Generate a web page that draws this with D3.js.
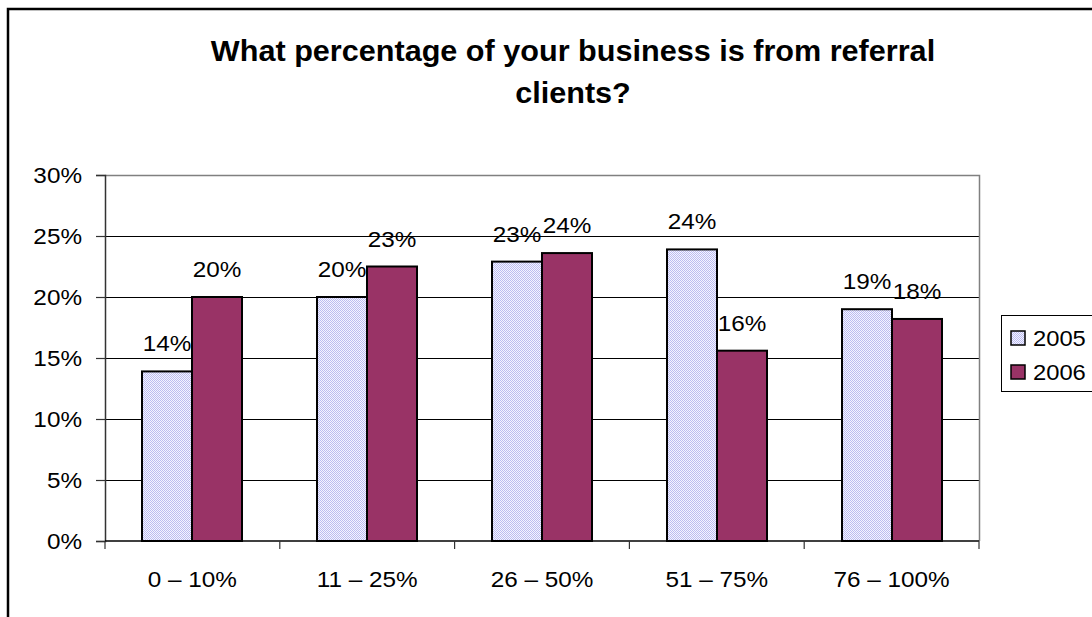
<!DOCTYPE html>
<html>
<head>
<meta charset="utf-8">
<script src="https://cdn.jsdelivr.net/npm/d3@7"></script>
<style>
  body { margin: 0; background: #fff; }
  svg { display: block; }
  text { font-family: "Liberation Sans", Arial, sans-serif; fill: #000; }
</style>
</head>
<body>
<svg id="chart" width="1092" height="617"></svg>
<script>
// Survey results: share of business coming from referral clients
const titleLines = ["What percentage of your business is from referral", "clients?"];
const categories = ["0 – 10%", "11 – 25%", "26 – 50%", "51 – 75%", "76 – 100%"];
const seriesNames = ["2005", "2006"];
const values2005 = [13.9, 20.0, 22.9, 23.9, 19.0];
const values2006 = [20.0, 22.5, 23.6, 15.6, 18.2];
const yTicks = [0, 5, 10, 15, 20, 25, 30];

const seriesValues = { "2005": values2005, "2006": values2006 };
const fmtPct = v => Math.round(v) + "%";
const SX = 1.08; // slight horizontal widening of the text glyphs

const svg = d3.select("#chart");

// pattern fill for the 2005 bars (fine lavender dither)
const defs = svg.append("defs");
const pat = defs.append("pattern")
  .attr("id", "dither")
  .attr("width", 2).attr("height", 2)
  .attr("patternUnits", "userSpaceOnUse");
pat.append("rect").attr("width", 2).attr("height", 2).attr("fill", "#f4f4ff");
pat.append("rect").attr("width", 1).attr("height", 1).attr("fill", "#bcbcf0");
pat.append("rect").attr("x", 1).attr("y", 1).attr("width", 1).attr("height", 1).attr("fill", "#bcbcf0");

const fills = { "2005": "url(#dither)", "2006": "#993366" };

// chart-area frame (runs off the right and bottom edges)
svg.append("rect")
  .attr("x", 8).attr("y", 9)
  .attr("width", 1200).attr("height", 700)
  .attr("fill", "none").attr("stroke", "#000").attr("stroke-width", 2.5);

function label(sel, x, y, txt, opts) {
  const o = Object.assign({ size: 22.5, anchor: "middle", weight: "normal", sx: SX }, opts || {});
  return sel.append("text")
    .attr("transform", `translate(${x},${y}) scale(${o.sx},1)`)
    .attr("text-anchor", o.anchor)
    .attr("font-size", o.size)
    .attr("font-weight", o.weight)
    .text(txt);
}

// title
const titleY = [61, 103];
titleLines.forEach((t, i) => label(svg, 573, titleY[i], t, { size: 30, weight: "bold", sx: 1.02 }));

// scales
const plotLeft = 105, plotRight = 979, plotTop = 175, plotBottom = 541;
const x = d3.scaleBand().domain(categories).range([plotLeft, plotRight]).paddingInner(0).paddingOuter(0);
const xs = d3.scaleBand().domain(seriesNames).range([0, x.bandwidth()]).paddingInner(0).paddingOuter(0.75);
const y = d3.scaleLinear().domain([0, 30]).range([plotBottom, plotTop]);

// gridlines
svg.append("g")
  .selectAll("line")
  .data(yTicks.filter(d => d > 0 && d < 30))
  .join("line")
  .attr("x1", plotLeft).attr("x2", plotRight)
  .attr("y1", d => Math.round(y(d)) + 0.5).attr("y2", d => Math.round(y(d)) + 0.5)
  .attr("stroke", "#000").attr("stroke-width", 1);

// plot frame top/right in grey
svg.append("path")
  .attr("d", `M${plotLeft},${plotTop + 0.5}H${plotRight + 0.5}V${plotBottom}`)
  .attr("fill", "none").attr("stroke", "#808080").attr("stroke-width", 1.5);

// bars, snapped to whole pixels so the dither stays even
const barData = [];
categories.forEach((c, i) => seriesNames.forEach(s => barData.push({ c, s, v: seriesValues[s][i] })));

svg.append("g")
  .selectAll("rect")
  .data(barData)
  .join("rect")
  .attr("x", d => Math.round(x(d.c) + xs(d.s)))
  .attr("y", d => y(d.v))
  .attr("width", Math.round(xs.bandwidth()))
  .attr("height", d => y(0) - y(d.v))
  .attr("fill", d => fills[d.s])
  .attr("stroke", "#000")
  .attr("stroke-width", 2);

// value labels
const labelG = svg.append("g");
barData.forEach(d => {
  label(labelG, Math.round(x(d.c) + xs(d.s)) + xs.bandwidth() / 2, y(d.v) - 20, fmtPct(d.v));
});

// y axis
const yAxis = svg.append("g")
  .attr("transform", `translate(${plotLeft},0)`)
  .call(d3.axisLeft(y).tickValues(yTicks).tickSize(9).tickFormat(""));
yAxis.select(".domain").attr("stroke", "#333").attr("stroke-width", 1.5);
yAxis.selectAll(".tick line").attr("stroke", "#333").attr("stroke-width", 1.2);
yTicks.forEach(t => label(svg, 82, y(t) + 8, t + "%", { anchor: "end" }));

// x axis with ticks between categories
const xEdges = categories.map(c => x(c)).concat([plotRight]);
const xAxisG = svg.append("g");
xAxisG.append("line")
  .attr("x1", plotLeft).attr("x2", plotRight)
  .attr("y1", plotBottom).attr("y2", plotBottom)
  .attr("stroke", "#000").attr("stroke-width", 1.5);
xAxisG.selectAll("line.tk")
  .data(xEdges)
  .join("line")
  .attr("class", "tk")
  .attr("x1", d => d).attr("x2", d => d)
  .attr("y1", plotBottom).attr("y2", plotBottom + 8)
  .attr("stroke", "#333").attr("stroke-width", 1.2);
categories.forEach(c => label(svg, x(c) + x.bandwidth() / 2, 587, c));

// legend
const lg = svg.append("g").attr("transform", "translate(1001,315)");
lg.append("rect")
  .attr("x", 0.5).attr("y", 0.5).attr("width", 200).attr("height", 76)
  .attr("fill", "#fff").attr("stroke", "#000").attr("stroke-width", 1);
seriesNames.forEach((s, i) => {
  const cy = 23 + i * 34;
  lg.append("rect")
    .attr("x", 10).attr("y", cy - 7).attr("width", 14).attr("height", 14)
    .attr("fill", fills[s]).attr("stroke", "#000").attr("stroke-width", 1.5);
  label(lg, 32, cy + 8, s, { anchor: "start", size: 22 });
});
</script>
</body>
</html>
